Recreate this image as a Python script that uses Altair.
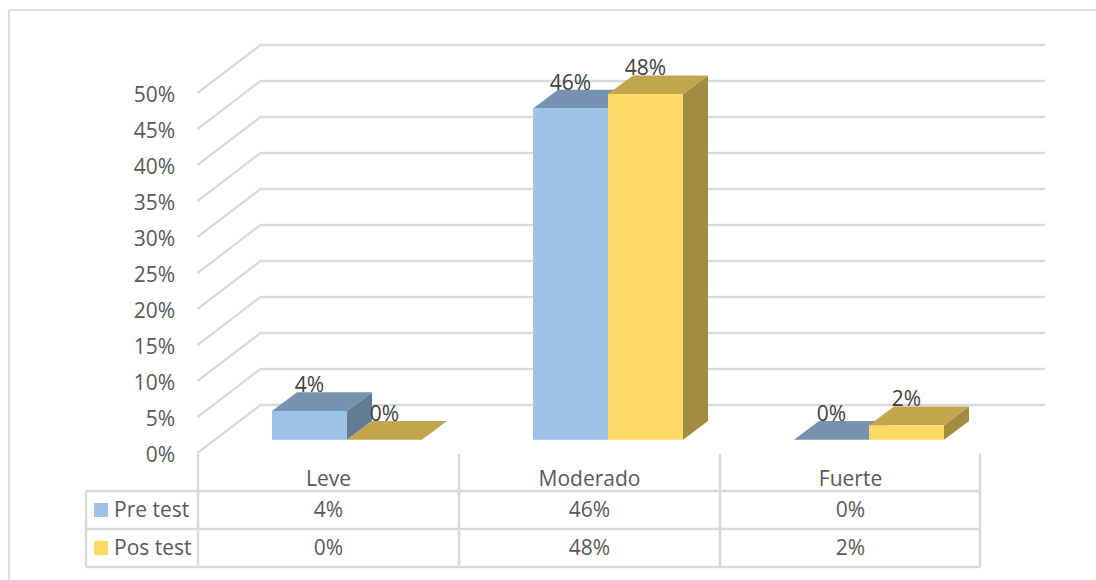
import altair as alt
import pandas as pd

# Chart values
categories = ["Leve", "Moderado", "Fuerte"]
pre_test = [4, 46, 0]
pos_test = [0, 48, 2]
series_names = ["Pre test", "Pos test"]
tick_values = [0, 5, 10, 15, 20, 25, 30, 35, 40, 45, 50]

# Canvas and scale set-up: one category step on x, one percentage point on y
W, H = 1096, 580
STEP_PX = 261.0
PCT_PX = 7.2
X0_PX = 328.5      # pixel centre of the first category column
Y0_PX = 439.7      # pixel position of 0 % on the plane of the bar fronts
FONT = "Open Sans"
FONT_SIZE = 21
GRID = "#DADADA"
LINE = "#D9D9D9"
TXT = "#595959"

x_scale = alt.Scale(domain=[-X0_PX / STEP_PX, (W - X0_PX) / STEP_PX], range=[0, W], nice=False, zero=False)
y_scale = alt.Scale(domain=[-(H - Y0_PX) / PCT_PX, Y0_PX / PCT_PX], range=[H, 0], nice=False, zero=False)

# Oblique projection offsets, expressed in scale units
BAR_W = 75 / STEP_PX
GROUP_SHIFT = 18.5 / STEP_PX
DEPTH_X = 25 / STEP_PX
DEPTH_Y = 18.7 / PCT_PX
WALL_FRONT_X = -0.5 - 0.5 / STEP_PX
WALL_BACK_X = WALL_FRONT_X + 63 / STEP_PX
WALL_END_X = (1045 - X0_PX) / STEP_PX
WALL_FRONT_Y = -13.3 / PCT_PX
WALL_BACK_Y = 34.7 / PCT_PX

X = lambda f: alt.X(f, type="quantitative", scale=x_scale, axis=None)
Y = lambda f: alt.Y(f, type="quantitative", scale=y_scale, axis=None, stack=None)
X2 = lambda f: alt.X2(f)
Y2 = lambda f: alt.Y2(f)

layers = []


def rule(x1, y1, x2, y2, width=2.5, color=LINE):
    return (
        alt.Chart(pd.DataFrame({"k": [0]}))
        .mark_rule(color=color, strokeWidth=width)
        .encode(x=alt.value(x1), x2=alt.value(x2), y=alt.value(y1), y2=alt.value(y2))
    )


# Chart frame
layers.append(rule(9, 10, 9, H, 2.2, "#DEDEDE"))
layers.append(rule(9, 10, W, 10, 2.2, "#DEDEDE"))

# Side wall and back wall gridlines
grid_rows = []
for t in tick_values:
    grid_rows += [
        {"t": t, "o": 0, "x": WALL_FRONT_X, "y": t + WALL_FRONT_Y},
        {"t": t, "o": 1, "x": WALL_BACK_X, "y": t + WALL_BACK_Y},
        {"t": t, "o": 2, "x": WALL_END_X, "y": t + WALL_BACK_Y},
    ]
layers.append(
    alt.Chart(pd.DataFrame(grid_rows))
    .mark_line(color=GRID, strokeWidth=2.3, strokeCap="butt")
    .encode(x=X("x"), y=Y("y"), detail="t:N", order="o:Q")
)

# Value axis labels
ticks_df = pd.DataFrame(
    {"y": [t + WALL_FRONT_Y for t in tick_values], "label": [f"{t}%" for t in tick_values]}
)
layers.append(
    alt.Chart(ticks_df)
    .mark_text(font=FONT, fontSize=FONT_SIZE, color=TXT, align="right", baseline="middle", dy=2.5)
    .encode(x=alt.value(175), y=Y("y"), text="label:N")
)


def box(i, side, value, colors):
    """Front, top and side faces of one bar, built from its value."""
    left = i + GROUP_SHIFT + (side - 1) * BAR_W
    right = left + BAR_W
    front_c, top_c, side_c = colors
    side_df = pd.DataFrame(
        {
            "x": [right, right + DEPTH_X],
            "y": [0, DEPTH_Y],
            "y2": [value, value + DEPTH_Y],
        }
    )
    top_df = pd.DataFrame(
        {
            "y": [value, value + DEPTH_Y],
            "x": [left, left + DEPTH_X],
            "x2": [right, right + DEPTH_X],
        }
    )
    front_df = pd.DataFrame({"x": [left, right], "y": [0, 0], "y2": [value, value]})
    parts = [
        alt.Chart(side_df).mark_area(color=side_c, orient="vertical").encode(x=X("x"), y=Y("y"), y2=Y2("y2")),
        alt.Chart(top_df).mark_area(color=top_c, orient="horizontal").encode(y=Y("y"), x=X("x"), x2=X2("x2")),
        alt.Chart(front_df).mark_area(color=front_c, orient="vertical").encode(x=X("x"), y=Y("y"), y2=Y2("y2")),
    ]
    return parts


PRE_COLORS = ("#9DC3E6", "#7792B0", "#637C96")
POS_COLORS = ("#FFD966", "#C1A64D", "#A38C3F")

# Bars, back to front within each group
for i in range(len(categories)):
    layers += box(i, 0, pre_test[i], PRE_COLORS)
    layers += box(i, 1, pos_test[i], POS_COLORS)

# Data labels
label_rows = []
for i in range(len(categories)):
    for side, series in enumerate([pre_test, pos_test]):
        label_rows.append(
            {
                "x": i + GROUP_SHIFT + (side - 0.5) * BAR_W,
                "y": series[i],
                "label": f"{series[i]}%",
            }
        )
layers.append(
    alt.Chart(pd.DataFrame(label_rows))
    .mark_text(font=FONT, fontSize=FONT_SIZE, color="#404040", baseline="middle", dy=-25)
    .encode(x=X("x"), y=Y("y"), text="label:N")
)

# Data table: grid
TABLE_COLS = [198, 459, 720, 980]
ROW_LINES = [491, 529, 567]
for c in TABLE_COLS:
    layers.append(rule(c, 454, c, 567))
layers.append(rule(86, 491, 86, 567))
for r in ROW_LINES:
    layers.append(rule(86, r, 980, r))

# Data table: category headers and values
ROW_Y = {"head": 479.5, "pre": 511, "pos": 549}
cells = []
for i, cat in enumerate(categories):
    cells.append({"x": i, "row": "head", "label": cat})
    cells.append({"x": i, "row": "pre", "label": f"{pre_test[i]}%"})
    cells.append({"x": i, "row": "pos", "label": f"{pos_test[i]}%"})
for row, ypos in ROW_Y.items():
    sub = pd.DataFrame([c for c in cells if c["row"] == row])
    layers.append(
        alt.Chart(sub)
        .mark_text(font=FONT, fontSize=FONT_SIZE, color=TXT, baseline="middle")
        .encode(x=X("x"), y=alt.value(ypos), text="label:N")
    )

# Data table: series names with colour keys
for name, ypos, color in zip(series_names, [ROW_Y["pre"], ROW_Y["pos"]], [PRE_COLORS[0], POS_COLORS[0]]):
    layers.append(
        alt.Chart(pd.DataFrame({"label": [name]}))
        .mark_text(font=FONT, fontSize=FONT_SIZE, color=TXT, align="left", baseline="middle")
        .encode(x=alt.value(114), y=alt.value(ypos), text="label:N")
    )
    layers.append(
        alt.Chart(pd.DataFrame({"label": [name]}))
        .mark_rect(color=color)
        .encode(
            x=alt.value(94), x2=alt.value(108),
            y=alt.value(ypos - 8), y2=alt.value(ypos + 6),
        )
    )

chart = (
    alt.layer(*layers)
    .properties(width=W, height=H, padding=0, autosize=alt.AutoSizeParams(type="none"), background="white")
    .configure_view(stroke=None)
)

chart.save("out.html", embed_options={"renderer": "svg", "actions": False})
